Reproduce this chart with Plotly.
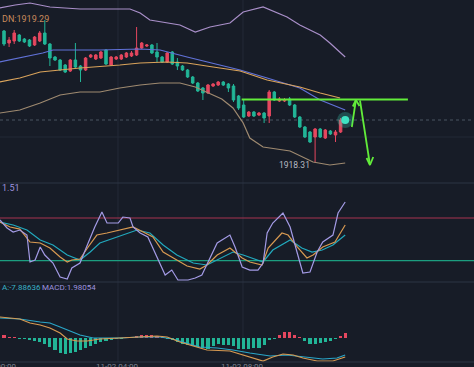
import plotly.graph_objects as go
from plotly.subplots import make_subplots

# ---------------- data ----------------
bar_idx = list(range(68))
open_ = [1931.5,1930.3,1930.5,1931.1,1930.7,1930.6,1930.1,1930.5,1931.3,1930.2,
         1928.9,1928.6,1928.1,1927.5,1928.6,1928.0,1927.6,1928.9,1928.7,1928.8,
         1929.6,1928.1,1928.7,1928.7,1928.9,1929.0,1929.1,1929.8,1930.0,1930.1,
         1929.4,1928.9,1928.4,1929.4,1928.4,1928.0,1927.6,1926.9,1926.3,1925.8,
         1925.3,1926.0,1926.1,1926.4,1926.2,1926.0,1925.0,1924.1,1923.0,1923.4,
         1923.1,1923.3,1923.0,1925.4,1924.5,1924.5,1924.7,1924.1,1922.9,1921.9,
         1921.4,1920.9,1921.7,1920.8,1921.5,1921.1,1921.4,1922.6]
high = [1931.6,1930.9,1931.6,1931.2,1930.8,1930.7,1931.0,1931.5,1932.6,1930.3,
        1929.0,1928.7,1928.2,1928.7,1930.3,1928.1,1928.9,1929.2,1929.2,1929.5,
        1929.7,1929.0,1929.0,1929.2,1929.4,1929.5,1931.9,1930.4,1930.2,1930.2,
        1930.3,1929.0,1929.4,1929.5,1928.8,1928.1,1927.7,1927.0,1926.4,1925.9,
        1926.2,1926.3,1926.5,1926.5,1926.3,1926.2,1925.1,1924.6,1923.5,1923.5,
        1923.4,1923.4,1925.6,1925.5,1924.9,1924.8,1924.9,1924.2,1923.0,1922.0,
        1921.5,1921.8,1921.8,1921.7,1921.6,1921.6,1922.8,1922.8]
low = [1930.0,1929.9,1930.2,1930.4,1930.3,1929.9,1930.0,1930.4,1930.1,1928.0,
       1928.5,1927.5,1927.3,1927.4,1927.8,1926.4,1927.5,1928.8,1928.6,1928.7,
       1928.1,1928.0,1928.6,1928.6,1928.8,1928.9,1929.0,1929.7,1929.9,1929.2,
       1928.4,1928.3,1928.3,1928.1,1927.6,1927.5,1926.8,1926.2,1925.4,1924.6,
       1925.2,1925.9,1926.0,1926.0,1925.4,1924.4,1923.6,1922.8,1922.9,1922.9,
       1923.0,1922.3,1922.3,1924.5,1924.4,1924.4,1924.0,1922.8,1921.8,1920.8,
       1920.3,1918.31,1920.8,1920.7,1921.1,1920.4,1921.3,1922.5]
close = [1930.2,1930.6,1931.3,1930.5,1930.4,1930.0,1930.9,1931.3,1930.2,1928.8,
         1928.6,1927.6,1927.4,1928.6,1927.9,1927.6,1928.8,1929.1,1929.1,1929.4,
         1928.2,1928.9,1928.9,1929.1,1929.3,1929.3,1929.8,1930.3,1930.1,1929.3,
         1928.9,1928.4,1929.3,1928.2,1928.0,1927.6,1926.9,1926.3,1925.5,1925.3,
         1926.1,1926.2,1926.4,1926.1,1925.8,1924.6,1923.8,1922.9,1923.4,1923.0,
         1923.3,1922.8,1925.4,1924.6,1924.7,1924.6,1924.1,1922.9,1921.9,1920.9,
         1920.4,1921.7,1920.9,1921.6,1921.2,1921.4,1922.6,1922.7]

# Bollinger-style bands (bar position, price)
up_x = [-0.8,2.2,5.1,9.0,14.9,24.7,26.7,28.6,34.5,37.5,40.4,44.3,46.9,50.8,55.5,58.0,62.0,63.9,66.9]
up_y = [1933.8,1934.1,1934.3,1933.9,1933.7,1933.7,1933.3,1932.6,1932.1,1931.4,1931.9,1932.3,1933.4,1933.9,1932.9,1932.1,1931.1,1930.3,1928.9]
ma1_x = [-0.8,3.1,7.6,9.6,18.8,26.7,30.6,35.9,41.0,46.3,51.6,58.0,62.0,66.9]
ma1_y = [1928.4,1928.8,1929.3,1929.6,1929.6,1929.7,1929.6,1928.9,1928.3,1927.6,1926.8,1925.8,1924.6,1923.6]
ma2_x = [-0.8,3.1,7.1,11.0,14.9,22.7,26.7,32.0,35.9,41.0,46.3,51.6,58.0,62.0,65.9]
ma2_y = [1926.4,1926.8,1927.4,1927.6,1927.8,1928.1,1928.3,1928.4,1928.3,1927.9,1927.5,1926.6,1925.9,1925.3,1924.8]
dn_x = [-0.8,3.1,7.1,11.0,14.9,18.8,22.7,26.7,30.6,34.5,37.5,40.4,42.7,44.9,46.9,48.2,50.8,56.1,60.6,63.9,66.9]
dn_y = [1923.3,1923.6,1924.3,1925.1,1925.4,1925.4,1925.8,1926.1,1926.3,1926.3,1925.9,1925.2,1924.7,1923.8,1922.3,1920.8,1919.9,1919.5,1918.4,1918.1,1918.3]

# oscillator panel
j_x = [-0.8,0.6,1.8,3.1,4.5,5.1,6.1,7.1,8.0,9.6,11.0,12.4,13.3,14.9,16.5,17.8,19.2,20.2,21.4,22.4,23.3,24.7,25.3,26.7,28.2,30.0,31.6,32.9,34.1,36.1,37.5,38.8,40.4,41.8,44.3,45.3,46.7,48.2,49.8,50.8,51.6,52.7,54.7,56.1,57.5,58.6,60.0,61.4,62.5,64.5,65.5,66.9]
j_y = [77.2,66,60.3,63.1,56.1,18.2,21,39.3,28,16.8,-2.9,-5.7,9.8,16.8,44.9,67.4,88.4,73,73,73,81.4,80,67.4,58.9,53.3,25.2,-0.1,6.9,-7.1,-7.1,-4.3,-0.1,23.8,44.9,56.1,39.3,11.2,6.9,6.9,16.8,58.9,73,87,67.4,30.8,2.7,4.1,32.2,46.3,56.1,87,102.5]
k_x = [-0.8,1.2,3.1,5.1,7.1,9.0,11.0,12.4,13.3,14.9,16.5,18.2,20.2,22.7,25.3,27.3,29.2,31.2,33.1,35.9,38.4,39.8,41.8,44.3,46.7,48.2,50.6,51.8,54.5,55.7,57.5,59.4,60.6,62.5,64.9,66.9]
k_y = [74.4,67.4,64.5,46.3,44.9,37.9,25.2,18.2,21,22.4,39.3,56.1,58.9,63.1,67.4,60.3,53.3,32.2,23.8,12.6,8.3,14,28,37.9,23.8,18.2,14,37.9,58.9,56.1,39.3,23.8,28,39.3,46.3,70.2]
d_x = [-0.8,1.8,4.5,7.1,9.6,12.4,14.9,16.9,18.8,22.2,26.1,28.6,31.2,33.9,37.1,39.8,42.4,44.9,46.9,50.8,52.7,56.1,58.4,60.4,62.4,64.5,66.9]
d_y = [74.4,70.2,63.1,49.1,42.1,28,21,32.2,44.9,53.3,63.1,58.9,42.1,28,16.8,14,23.8,32.2,28,18.2,35,49.1,37.9,32.2,35,42.1,56.1]
osc_levels = [80, 20]

# MACD panel
macd_hist = [0.3,0.05,0.05,-0.05,-0.1,-0.2,-0.3,-0.4,-0.6,-0.9,
             -1.2,-1.5,-1.6,-1.5,-1.4,-1.2,-1.0,-0.8,-0.6,-0.4,
             -0.3,-0.2,-0.1,-0.05,0.05,0.05,0.2,0.35,0.35,0.3,
             0.15,0.05,-0.1,-0.2,-0.4,-0.6,-0.7,-0.8,-0.9,-1.0,
             -1.1,-0.8,-0.6,-0.7,-0.7,-0.8,-1.1,-1.1,-1.1,-1.0,
             -1.0,-0.7,-0.2,-0.05,0.3,0.6,0.6,0.3,0.05,-0.3,
             -0.6,-0.6,-0.5,-0.4,-0.3,-0.1,0.2,0.5]
dif_x = [-0.8,3.1,5.1,7.1,9.0,11.0,12.4,14.3,16.3,18.8,22.7,26.7,30.0,32.0,34.5,37.1,39.8,44.3,48.2,50.8,52.7,54.7,56.7,58.6,61.4,64.5,66.9]
dif_y = [2.1,1.9,1.5,1.3,1.0,0.5,-0.1,-0.3,-0.3,-0.1,0,0.1,0.2,0.1,-0.4,-0.8,-1.2,-1.3,-1.9,-2.3,-1.9,-1.6,-1.7,-2.0,-2.3,-2.3,-1.9]
dea_x = [-0.8,3.1,7.1,9.0,11.0,12.9,14.9,17.5,22.7,26.7,30.6,33.1,35.9,38.4,41.8,44.9,48.2,52.2,55.5,58.6,62.5,65.3,66.9]
dea_y = [2.0,1.9,1.6,1.5,1.1,0.7,0.3,0,0,0.1,0.1,-0.1,-0.5,-0.9,-1.0,-1.2,-1.5,-1.8,-1.7,-1.9,-2.1,-2.0,-1.7]

# analyst drawings (bar position, price)
level_x = [46.6, 79.2]
level_price = 1924.65
up_arrow_x = [68.2, 69.0]; up_arrow_y = [1921.9, 1924.6]
up_head_x = [68.4, 69.0, 69.7]; up_head_y = [1923.95, 1924.6, 1924.0]
dn_arrow_x = [69.8, 71.76]; dn_arrow_y = [1924.55, 1918.1]
dn_head_x = [71.1, 71.76, 72.4]; dn_head_y = [1918.8, 1918.1, 1918.9]
last_x, last_price = 66.9, 1922.6
low_label = "1918.31"
time_ticks = [-1.76, 22.35, 46.86]
time_labels = ["11-02 00:00", "11-02 04:00", "11-02 08:00"]

# ---------------- styling ----------------
BG = "#171c27"
RED = "#e5475f"
GREEN = "#22b597"
LIME = "#62ec3a"
FONT = "Roboto"

W, H = 474, 367
XR = [-4/5.1, 470/5.1]

fig = make_subplots(rows=3, cols=1, shared_xaxes=True, vertical_spacing=0)

fig.add_trace(go.Candlestick(x=bar_idx, open=open_, high=high, low=low, close=close,
                             increasing=dict(line=dict(color=RED, width=1), fillcolor=RED),
                             decreasing=dict(line=dict(color=GREEN, width=1), fillcolor=GREEN),
                             whiskerwidth=0, showlegend=False, hoverinfo="skip"), row=1, col=1)

for xs, ys, c in [(up_x, up_y, "#a98fc9"), (ma1_x, ma1_y, "#6172d8"),
                  (ma2_x, ma2_y, "#d9a35b"), (dn_x, dn_y, "#9f8a70")]:
    fig.add_trace(go.Scatter(x=xs, y=ys, mode="lines", line=dict(color=c, width=1.2),
                             showlegend=False, hoverinfo="skip"), row=1, col=1)

# drawings
fig.add_trace(go.Scatter(x=level_x, y=[level_price, level_price], mode="lines",
                         line=dict(color=LIME, width=2), showlegend=False, hoverinfo="skip"), row=1, col=1)
for xs, ys in [(up_arrow_x, up_arrow_y), (up_head_x, up_head_y),
               (dn_arrow_x, dn_arrow_y), (dn_head_x, dn_head_y)]:
    fig.add_trace(go.Scatter(x=xs, y=ys, mode="lines", line=dict(color=LIME, width=1.8),
                             showlegend=False, hoverinfo="skip"), row=1, col=1)

# glowing last-price dot
fig.add_trace(go.Scatter(x=[last_x], y=[last_price], mode="markers",
                         marker=dict(size=16, color="rgba(60,225,195,0.25)"),
                         showlegend=False, hoverinfo="skip"), row=1, col=1)
fig.add_trace(go.Scatter(x=[last_x], y=[last_price], mode="markers",
                         marker=dict(size=8, color="#3fe3c3"),
                         showlegend=False, hoverinfo="skip"), row=1, col=1)

# oscillator
for xs, ys, c in [(d_x, d_y, "#22a9bd"), (k_x, k_y, "#d89a52"), (j_x, j_y, "#a49be6")]:
    fig.add_trace(go.Scatter(x=xs, y=ys, mode="lines", line=dict(color=c, width=1.2),
                             showlegend=False, hoverinfo="skip"), row=2, col=1)

# MACD
fig.add_trace(go.Bar(x=bar_idx, y=macd_hist, width=0.6,
                     marker=dict(color=[RED if v > 0 else GREEN for v in macd_hist], line=dict(width=0)),
                     showlegend=False, hoverinfo="skip"), row=3, col=1)
fig.add_trace(go.Scatter(x=dea_x, y=dea_y, mode="lines", line=dict(color="#2aa7c9", width=1.2),
                         showlegend=False, hoverinfo="skip"), row=3, col=1)
fig.add_trace(go.Scatter(x=dif_x, y=dif_y, mode="lines", line=dict(color="#d89a52", width=1.2),
                         showlegend=False, hoverinfo="skip"), row=3, col=1)

d1 = [1 - 183/H, 1]
d2 = [1 - 282/H, 1 - 183/H]
d3 = [1 - 362/H, 1 - 282/H]

ax_common = dict(showgrid=False, zeroline=False, showticklabels=False, showline=False,
                 ticks="", fixedrange=True)
fig.update_layout(
    width=W, height=H, margin=dict(l=0, r=0, t=0, b=0),
    paper_bgcolor=BG, plot_bgcolor=BG, bargap=0,
    font=dict(family=FONT, color="#8a909b"),
    xaxis=dict(range=XR, rangeslider=dict(visible=False), **ax_common),
    xaxis2=dict(range=XR, **ax_common),
    xaxis3=dict(range=XR, **ax_common),
    yaxis=dict(domain=d1, range=[1916.3, 1934.6], **ax_common),
    yaxis2=dict(domain=d2, range=[-9.9, 129.2], **ax_common),
    yaxis3=dict(domain=d3, range=[-2.4, 5.6], **ax_common),
)

shapes = []
for t in time_ticks[1:]:
    shapes.append(dict(type="line", xref="x", yref="paper", x0=t, x1=t, y0=d3[0], y1=1,
                       line=dict(color="#232a37", width=1), layer="below"))
for yy in [d1[0], d2[0], d3[0]]:
    shapes.append(dict(type="line", xref="paper", yref="paper", x0=0, x1=1, y0=yy, y1=yy,
                       line=dict(color="#2c3444", width=1)))
shapes.append(dict(type="line", xref="paper", yref="y", x0=0, x1=1, y0=1920.9, y1=1920.9,
                   line=dict(color="#222936", width=1), layer="below"))
shapes.append(dict(type="line", xref="paper", yref="y", x0=0, x1=1, y0=last_price, y1=last_price,
                   line=dict(color="#4a5463", width=1, dash="dot"), layer="below"))
shapes.append(dict(type="line", xref="paper", yref="y2", x0=0, x1=1, y0=osc_levels[0], y1=osc_levels[0],
                   line=dict(color="#a83350", width=1.2), layer="below"))
shapes.append(dict(type="line", xref="paper", yref="y2", x0=0, x1=1, y0=osc_levels[1], y1=osc_levels[1],
                   line=dict(color="#1c9e80", width=1.2), layer="below"))
fig.update_layout(shapes=shapes)

ann = []
ann.append(dict(xref="paper", yref="paper", x=0, y=1 - 19/H, xanchor="left", yanchor="middle",
                text="DN:1919.29", showarrow=False, font=dict(size=9, color="#c98a5c", family=FONT)))
ann.append(dict(xref="x", yref="y", x=60.3, y=1918.1, xanchor="right", yanchor="middle",
                text=low_label, showarrow=False, font=dict(size=8.5, color="#b6bac2", family=FONT)))
ann.append(dict(xref="paper", yref="paper", x=0, y=1 - 188/H, xanchor="left", yanchor="middle",
                text="1.51", showarrow=False, font=dict(size=9, color="#9d93df", family=FONT)))
ann.append(dict(xref="paper", yref="paper", x=0, y=1 - 287/H, xanchor="left", yanchor="middle",
                text="A:-7.88636", showarrow=False, font=dict(size=8, color="#39b1c6", family=FONT)))
ann.append(dict(xref="paper", yref="paper", x=40/W, y=1 - 287/H, xanchor="left", yanchor="middle",
                text="MACD:1.98054", showarrow=False, font=dict(size=8, color="#9d93df", family=FONT)))
for t, lab in zip(time_ticks, time_labels):
    ann.append(dict(xref="paper", yref="paper", x=(4 + 5.1*t)/W, y=1 - 360/H, xanchor="center",
                    yanchor="top", text=lab, showarrow=False,
                    font=dict(size=8, color="#7d838f", family=FONT)))
fig.update_layout(annotations=ann)

fig.write_html("out.html", config=dict(displayModeBar=False),
               post_script="document.body.style.margin='0';document.body.style.overflow='hidden';")
